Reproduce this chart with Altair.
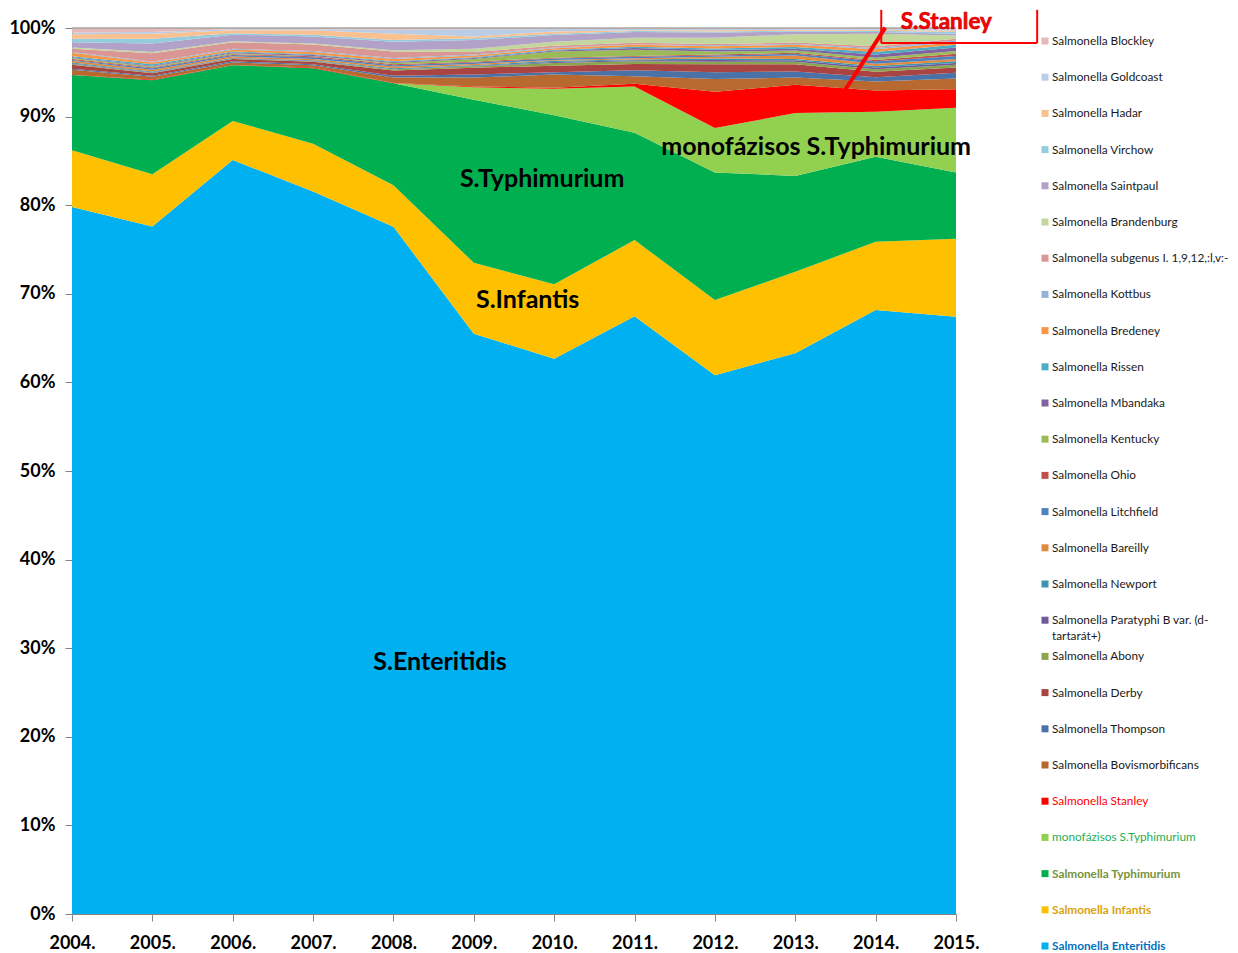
import altair as alt
import pandas as pd

years = [2004, 2005, 2006, 2007, 2008, 2009, 2010, 2011, 2012, 2013, 2014, 2015]

# stacking order, bottom -> top
series_names = [
    "Salmonella Enteritidis", "Salmonella Infantis", "Salmonella Typhimurium",
    "monofázisos S.Typhimurium", "Salmonella Stanley", "Salmonella Bovismorbificans",
    "Salmonella Thompson", "Salmonella Derby", "Salmonella Abony",
    "Salmonella Paratyphi B var. (d-tartarát+)", "Salmonella Newport", "Salmonella Bareilly",
    "Salmonella Litchfield", "Salmonella Ohio", "Salmonella Kentucky", "Salmonella Mbandaka",
    "Salmonella Rissen", "Salmonella Bredeney", "Salmonella Kottbus",
    "Salmonella subgenus I. 1,9,12,:l,v:-", "Salmonella Brandenburg", "Salmonella Saintpaul",
    "Salmonella Virchow", "Salmonella Hadar", "Salmonella Goldcoast", "Salmonella Blockley",
]

enteritidis = [79.8, 77.6, 85.1, 81.5, 77.6, 65.5, 62.7, 67.4, 60.8, 63.3, 68.2, 67.4]
infantis = [6.4, 5.9, 4.4, 5.4, 4.7, 8.0, 8.4, 8.6, 8.5, 9.2, 7.7, 8.8]
typhimurium = [8.5, 10.6, 6.3, 8.5, 11.5, 18.4, 19.1, 12.1, 14.4, 10.8, 9.6, 7.5]
monofazisos = [0, 0, 0, 0, 0, 1.4, 3.0, 5.2, 5.0, 7.1, 5.1, 7.3]
stanley = [0, 0.1, 0, 0.1, 0.05, 0.1, 0.1, 0.3, 4.1, 3.2, 2.4, 2.1]
bovismorbificans = [0.6, 0.3, 0.3, 0.25, 0.6, 1.0, 1.5, 0.85, 1.45, 0.8, 1.0, 1.2]
thompson = [0.1, 0.1, 0.15, 0.1, 0.2, 0.35, 0.25, 0.7, 0.75, 0.7, 0.5, 0.65]
derby = [0.45, 0.3, 0.25, 0.3, 0.6, 0.75, 0.75, 0.7, 0.9, 0.8, 0.6, 0.6]
abony = [0.1, 0.05, 0.05, 0.05, 0.1, 0.15, 0.3, 0.3, 0.3, 0.3, 0.3, 0.3]
paratyphi = [0.05, 0.05, 0.05, 0.05, 0.05, 0.05, 0.1, 0.1, 0.2, 0.15, 0.2, 0.2]
newport = [0.1, 0.1, 0.05, 0.05, 0.1, 0.1, 0.15, 0.1, 0.15, 0.15, 0.15, 0.2]
bareilly = [0.2, 0.2, 0.15, 0.15, 0.2, 0.15, 0.1, 0.15, 0.2, 0.4, 0.25, 0.25]
litchfield = [0.1, 0.15, 0.15, 0.2, 0.15, 0.15, 0.15, 0.15, 0.15, 0.2, 0.3, 0.35]
ohio = [0.1, 0.1, 0.1, 0.1, 0.1, 0.1, 0.1, 0.1, 0.1, 0.1, 0.15, 0.25]
kentucky = [0.1, 0.1, 0.1, 0.05, 0.15, 0.3, 0.7, 0.7, 0.35, 0.25, 0.25, 0.3]
mbandaka = [0.1, 0.1, 0.1, 0.1, 0.1, 0.1, 0.1, 0.2, 0.2, 0.2, 0.35, 0.4]
rissen = [0.1, 0.15, 0.1, 0.1, 0.1, 0.1, 0.1, 0.15, 0.15, 0.2, 0.3, 0.3]
bredeney = [0.4, 0.2, 0.2, 0.25, 0.25, 0.2, 0.15, 0.2, 0.25, 0.25, 0.3, 0.3]
kottbus = [0.1, 0.1, 0.1, 0.1, 0.1, 0.1, 0.1, 0.05, 0.1, 0.1, 0.15, 0.2]
subgenus = [0.35, 0.95, 0.75, 0.75, 0.75, 0.3, 0.2, 0.2, 0.15, 0.15, 0.2, 0.2]
brandenburg = [0.15, 0.15, 0.1, 0.1, 0.15, 0.35, 0.45, 0.55, 0.7, 0.95, 1.4, 0.35]
saintpaul = [0.6, 0.95, 0.75, 0.8, 0.95, 1.0, 0.75, 0.65, 0.6, 0.3, 0.2, 0.2]
virchow = [0.4, 0.55, 0.15, 0.2, 0.2, 0.2, 0.15, 0.1, 0.1, 0.1, 0.15, 0.2]
hadar = [0.5, 0.55, 0.35, 0.5, 0.7, 0.2, 0.25, 0.1, 0.15, 0.1, 0.1, 0.15]
goldcoast = [0.2, 0.2, 0.1, 0.1, 0.45, 0.8, 0.3, 0.15, 0.15, 0.1, 0.1, 0.15]
blockley = [0.5, 0.45, 0.15, 0.15, 0.2, 0.15, 0.1, 0.1, 0.1, 0.1, 0.1, 0.15]

series_values = [
    enteritidis, infantis, typhimurium, monofazisos, stanley, bovismorbificans,
    thompson, derby, abony, paratyphi, newport, bareilly, litchfield, ohio, kentucky,
    mbandaka, rissen, bredeney, kottbus, subgenus, brandenburg, saintpaul, virchow,
    hadar, goldcoast, blockley,
]

series_colors = [
    "#00B0F0", "#FFC000", "#00B050", "#92D050", "#FF0000", "#B7692F",
    "#4A72A6", "#A94442", "#8BA54E", "#70589A", "#3E95AD", "#E08A3F",
    "#4F81BD", "#C0504D", "#9BBB59", "#8064A2", "#4BACC6", "#F79646",
    "#95B3D7", "#D99694", "#C3D69B", "#B3A2C7", "#93CDDD", "#FAC090",
    "#B9CDE5", "#E6B9B8",
]

legend_text_colors = ["#0070C0", "#D9A20C", "#76923C", "#1FAE55", "#FF0000"] + ["#1A1A1A"] * 21
legend_bold = [True, True, True, False, False] + [False] * 21
legend_labels = list(series_names)
legend_labels[9] = "Salmonella Paratyphi B var. (d-\ntartarát+)"

# annotation labels (text, year, share)
annot_text = ["S.Enteritidis", "S.Infantis", "S.Typhimurium", "monofázisos S.Typhimurium"]
annot_year = [2008.58, 2009.67, 2009.85, 2013.26]
annot_share = [0.284, 0.693, 0.830, 0.866]

# S.Stanley call-out box (segments in data space) and arrow
box_x = [2014.07, 2014.07, 2016.01]
box_x2 = [2014.07, 2016.01, 2016.01]
box_y = [0.983, 0.983, 0.983]
box_y2 = [1.0205, 0.983, 1.0205]
arrow_from = (2014.12, 1.0005)
arrow_to = (2013.57, 0.923)

FONT = "Lato"

rows = []
for i, (name, vals) in enumerate(zip(series_names, series_values)):
    for yr, v in zip(years, vals):
        rows.append({"year": yr, "series": name, "value": v, "order": i})
df = pd.DataFrame(rows)

xscale = alt.Scale(domain=[2004, 2015], nice=False, zero=False)
yscale = alt.Scale(domain=[0, 1], nice=False)

area = alt.Chart(df).mark_area(interpolate="linear").encode(
    x=alt.X("year:Q", scale=xscale,
            axis=alt.Axis(values=years, labelExpr="datum.value + '.'", title=None, grid=False,
                          domainColor="#868686", tickColor="#868686", tickSize=7,
                          labelFont=FONT, labelFontWeight="bold", labelFontSize=18,
                          labelColor="#000000", labelPadding=13, labelFlush=False)),
    y=alt.Y("value:Q", stack="normalize", scale=yscale,
            axis=alt.Axis(values=[i / 10 for i in range(11)], format=".0%", title=None,
                          grid=False, domainColor="#868686", tickColor="#868686", tickSize=7,
                          labelFont=FONT, labelFontWeight="bold", labelFontSize=18,
                          labelColor="#000000", labelPadding=10)),
    color=alt.Color("series:N", scale=alt.Scale(domain=series_names, range=series_colors),
                    legend=None),
    order=alt.Order("order:Q", sort="ascending"),
)

top_line = alt.Chart(pd.DataFrame({"year": [2004], "year2": [2015], "s": [1.0]})).mark_rule(
    color="#A6A6A6", strokeWidth=1.5
).encode(x=alt.X("year:Q", scale=xscale), x2="year2:Q", y=alt.Y("s:Q", scale=yscale))

annot_df = pd.DataFrame({"t": annot_text, "year": annot_year, "s": annot_share})
annots = alt.Chart(annot_df).mark_text(
    font=FONT, fontWeight="bold", fontSize=25, color="#000000", align="center", baseline="middle"
).encode(x=alt.X("year:Q", scale=xscale), y=alt.Y("s:Q", scale=yscale), text="t:N")

box_df = pd.DataFrame({"x": box_x, "x2": box_x2, "y": box_y, "y2": box_y2})
box = alt.Chart(box_df).mark_rule(color="#FF0000", strokeWidth=2).encode(
    x=alt.X("x:Q", scale=xscale), x2="x2:Q", y=alt.Y("y:Q", scale=yscale), y2="y2:Q"
)

arrow_df = pd.DataFrame({"x": [arrow_from[0]], "x2": [arrow_to[0]],
                         "y": [arrow_from[1]], "y2": [arrow_to[1]]})
arrow = alt.Chart(arrow_df).mark_rule(color="#FF0000", strokeWidth=4).encode(
    x=alt.X("x:Q", scale=xscale), x2="x2:Q", y=alt.Y("y:Q", scale=yscale), y2="y2:Q"
)
head_df = pd.DataFrame({"x": [arrow_to[0]], "y": [arrow_to[1]]})
head = alt.Chart(head_df).mark_point(
    shape="triangle-up", filled=True, color="#FF0000", size=110, angle=213, opacity=1
).encode(x=alt.X("x:Q", scale=xscale), y=alt.Y("y:Q", scale=yscale))

stan_df = pd.DataFrame({"t": ["S.Stanley"], "year": [2014.88], "s": [1.0068]})
stan = alt.Chart(stan_df).mark_text(
    font=FONT, fontWeight="bold", fontSize=22.5, color="#FF0000", stroke="#C00000",
    strokeWidth=0.6, align="center", baseline="middle"
).encode(x=alt.X("year:Q", scale=xscale), y=alt.Y("s:Q", scale=yscale), text="t:N")

main = alt.layer(area, top_line, annots, box, arrow, head, stan).properties(
    width=884, height=886, view=alt.ViewBackground(stroke=None)
)

# legend (top -> bottom = reverse stacking order)
leg_names = list(reversed(series_names))
leg_df = pd.DataFrame({
    "name": series_names,
    "label": legend_labels,
    "swatch": series_colors,
    "tcolor": legend_text_colors,
    "bold": legend_bold,
    "col": [0] * len(series_names),
})
ly = alt.Y("name:N", sort=leg_names, scale=alt.Scale(type="point", padding=0.359), axis=None)
lx = alt.X("col:Q", scale=alt.Scale(domain=[0, 1]), axis=None)
swatches = alt.Chart(leg_df).mark_square(size=49, opacity=1, strokeWidth=0).encode(
    x=lx, y=ly, color=alt.Color("swatch:N", scale=None)
)
leg_text_normal = alt.Chart(leg_df).transform_filter("!datum.bold").mark_text(
    font=FONT, fontSize=11.8, align="left", baseline="alphabetic", dx=7, dy=4,
    lineBreak="\n", lineHeight=16
).encode(x=lx, y=ly, text="label:N", color=alt.Color("tcolor:N", scale=None))
leg_text_bold = alt.Chart(leg_df).transform_filter("datum.bold").mark_text(
    font=FONT, fontSize=11.8, fontWeight="bold", align="left", baseline="alphabetic", dx=7, dy=4
).encode(x=lx, y=ly, text="label:N", color=alt.Color("tcolor:N", scale=None))
legend = alt.layer(swatches, leg_text_normal, leg_text_bold).properties(
    width=8, height=931, view=alt.ViewBackground(stroke=None)
)

chart = alt.hconcat(main, legend, spacing=89, bounds="flush").properties(
    padding={"left": 0, "top": 0, "right": 0, "bottom": 0}
).configure(background="#FFFFFF").configure_view(stroke=None)

chart.save("out.html", embed_options={"renderer": "svg", "actions": False})
